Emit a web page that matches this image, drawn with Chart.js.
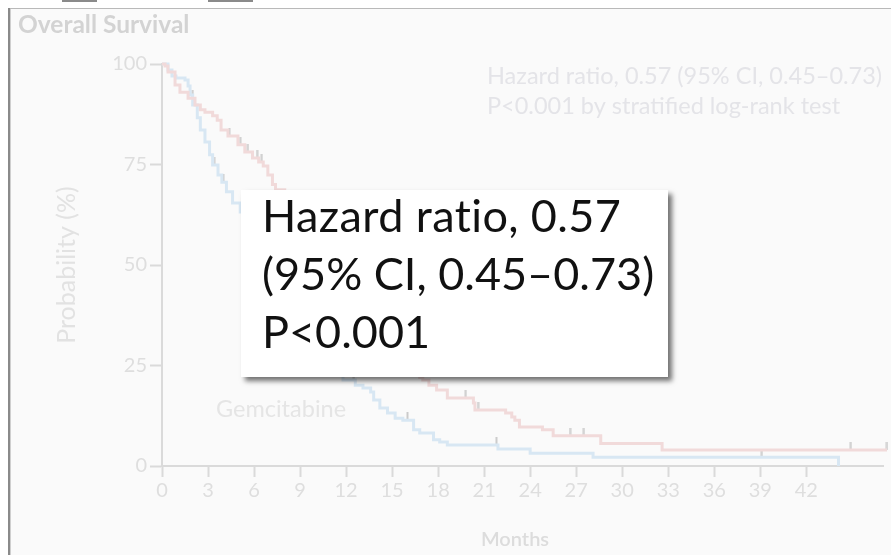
<!DOCTYPE html>
<html>
<head>
<meta charset="utf-8">
<script src="https://cdn.jsdelivr.net/npm/chart.js@4/dist/chart.umd.min.js"></script>
<style>
  html, body { margin: 0; padding: 0; background: #ffffff; }
  #wrap { position: relative; width: 891px; height: 555px; overflow: hidden; background: #ffffff; }
  #panel { position: absolute; left: 9px; top: 9px; width: 882px; height: 546px; background: #fafafa; }
  #chart { position: absolute; left: 0; top: 0; }
  .edgeTop { position: absolute; left: 8px; top: 8px; width: 883px; height: 1px; background: #b9b9b9; }
  .edgeLeft { position: absolute; left: 8px; top: 8px; width: 2px; height: 547px; background: #8a8a8a; }
  .edgeLeftSoft { position: absolute; left: 10px; top: 9px; width: 1px; height: 546px; background: #cfcfcf; }
  .nick { position: absolute; top: 0; height: 2px; background: #8a8a8a; }
  #callout {
    position: absolute; left: 241px; top: 190px; width: 427px; height: 187px;
    background: #ffffff; box-shadow: 4px 4px 5px rgba(0,0,0,0.55);
    font-family: Lato, "Open Sans", sans-serif; font-size: 45px; line-height: 58px; color: #111111;
    box-sizing: border-box; padding-left: 21px; padding-top: 0;
  }
  #callout div { white-space: nowrap; }
  #callout .first { margin-top: -4px; letter-spacing: 0.4px; }
</style>
</head>
<body>
<div id="wrap">
  <div id="panel"></div>
  <canvas id="chart" width="891" height="555"></canvas>
  <div class="edgeTop"></div>
  <div class="edgeLeft"></div>
  <div class="edgeLeftSoft"></div>
  <div class="nick" style="left:62px;width:35px;"></div>
  <div class="nick" style="left:208px;width:45px;"></div>
  <div id="callout">
    <div class="first">Hazard ratio, 0.57</div>
    <div>(95% CI, 0.45–0.73)</div>
    <div>P&lt;0.001</div>
  </div>
</div>
<script>
// Kaplan-Meier overall survival, months vs. percent surviving
const folfirinoxMonths = [0, 0.2, 0.39, 0.85, 1.17, 1.7, 2.15, 2.5, 2.8, 3.3, 3.6, 3.85, 4.3, 4.95, 5.4, 5.9, 6.3, 6.6, 6.9, 7.2, 7.4, 8.0, 9.0, 10.0, 11.1, 12.0, 13.0, 14.0, 15.0, 16.0, 16.8, 17.0, 17.4, 17.9, 18.6, 20.3, 20.4, 22.4, 22.8, 23.0, 23.3, 24.8, 25.5, 28.6, 32.6, 47.26];
const folfirinoxSurv   = [100, 99.5, 98, 94.8, 93, 91.5, 89.8, 88.6, 88, 87.1, 86, 83.6, 82.1, 79.9, 78.1, 76.6, 75.6, 74.6, 72.4, 70, 68.7, 64, 58, 54, 50, 45, 39, 33, 28, 24.5, 22, 21.4, 20.1, 18.9, 16.9, 15.7, 13.9, 13.2, 12.2, 11.4, 9.7, 9.0, 7.5, 5.6, 4.0, 4.0];

const gemMonths = [0, 0.39, 0.65, 0.91, 1.5, 1.7, 1.83, 2.0, 2.3, 2.5, 2.8, 3.1, 3.3, 3.65, 3.9, 4.2, 4.6, 5.1, 5.4, 6.0, 6.8, 7.5, 8.3, 9.0, 9.8, 10.5, 11.2, 11.8, 12.6, 13.1, 13.6, 13.8, 14.2, 14.7, 15.2, 15.7, 16.4, 16.8, 17.7, 18.1, 18.6, 21.9, 24.0, 28.1, 44.1];
const gemSurv   = [100, 98.5, 97, 96.5, 96, 94.5, 92.3, 89.8, 86.6, 83.6, 80.6, 77.4, 74.9, 72.4, 70.6, 68.2, 65.4, 63.2, 61.7, 57, 50, 44, 38, 33, 29, 26, 23.5, 21.4, 20.1, 19.4, 18.4, 16.4, 14.4, 13.2, 11.9, 11.4, 9.0, 8.2, 6.5, 6.0, 5.2, 4.2, 3.2, 2.2, 0];

// censored observations (tick marks on the curves)
const folfirinoxCensorMonths = [2.0, 4.4, 5.1, 5.6, 6.2, 6.5, 19.8, 20.6, 26.6, 27.5, 44.9, 47.26];
const folfirinoxCensorSurv   = [91.5, 82.1, 79.9, 78.1, 76.6, 75.6, 16.9, 13.9, 7.5, 7.5, 4.0, 4.0];
const gemCensorMonths = [3.4, 4.0, 12.5, 16.0, 21.8, 39.1];
const gemCensorSurv   = [74.9, 70.6, 21.4, 11.4, 5.2, 2.2];

const xTickValues = [0, 3, 6, 9, 12, 15, 18, 21, 24, 27, 30, 33, 36, 39, 42];
const yTickValues = [0, 25, 50, 75, 100];

const FONT = 'Lato, "Open Sans", sans-serif';
const pts = (xs, ys) => xs.map((x, i) => ({ x: x, y: ys[i] }));

// small upward tick used as the censor marker
function censorMark() {
  const c = document.createElement('canvas');
  c.width = 3; c.height = 16;
  const g = c.getContext('2d');
  g.fillStyle = '#cbcbcb';
  g.fillRect(0.5, 0, 2, 8);
  return c;
}
const tick = censorMark();

const annotations = {
  id: 'annotations',
  afterDraw(chart) {
    const g = chart.ctx;
    g.save();
    g.textBaseline = 'alphabetic';
    g.fillStyle = '#d3d3d3';
    g.font = 'bold 24.5px ' + FONT;
    g.textAlign = 'left';
    g.fillText('Overall Survival', 18, 33);

    g.fillStyle = '#e4e4e8';
    g.font = '23.5px ' + FONT;
    g.fillText('Hazard ratio, 0.57 (95% CI, 0.45–0.73)', 487, 84);
    g.fillText('P<0.001 by stratified log-rank test', 487, 114);

    g.fillStyle = '#e5e5e5';
    g.font = '23.5px ' + FONT;
    g.fillText('Gemcitabine', 216, 417);

    g.fillStyle = '#dcdcdc';
    g.font = '600 20px ' + FONT;
    g.textAlign = 'center';
    g.fillText('Months', 515, 546);
    g.restore();
  }
};

new Chart(document.getElementById('chart'), {
  type: 'line',
  data: {
    datasets: [
      {
        label: 'FOLFIRINOX',
        data: pts(folfirinoxMonths, folfirinoxSurv),
        stepped: 'before',
        borderColor: '#f1dada',
        borderWidth: 3,
        pointRadius: 0,
        fill: false,
        clip: 8
      },
      {
        label: 'Gemcitabine',
        data: pts(gemMonths, gemSurv),
        stepped: 'before',
        borderColor: '#d8e7f3',
        borderWidth: 3,
        pointRadius: 0,
        fill: false,
        clip: 8
      },
      {
        type: 'scatter',
        label: 'FOLFIRINOX censored',
        data: pts(folfirinoxCensorMonths, folfirinoxCensorSurv),
        pointStyle: tick,
        showLine: false,
        clip: 8
      },
      {
        type: 'scatter',
        label: 'Gemcitabine censored',
        data: pts(gemCensorMonths, gemCensorSurv),
        pointStyle: tick,
        showLine: false,
        clip: 8
      }
    ]
  },
  options: {
    responsive: false,
    animation: false,
    events: [],
    layout: { padding: { left: 0, top: 64, right: 8, bottom: 0 } },
    scales: {
      x: {
        type: 'linear',
        min: 0,
        max: 47,
        afterFit(s) { s.height = 89; },
        afterBuildTicks(s) { s.ticks = xTickValues.map(v => ({ value: v })); },
        grid: { drawOnChartArea: false, drawTicks: true, tickLength: 11, tickColor: '#dadada', tickWidth: 2 },
        border: { display: true, color: '#dadada', width: 2 },
        ticks: { font: { family: FONT, size: 20 }, color: '#dedede', padding: 2, maxRotation: 0, autoSkip: false }
      },
      y: {
        type: 'linear',
        min: 0,
        max: 100,
        afterFit(s) { s.width = 162; },
        afterBuildTicks(s) { s.ticks = yTickValues.map(v => ({ value: v })); },
        grid: { drawOnChartArea: false, drawTicks: true, tickLength: 12, tickColor: '#dadada', tickWidth: 2 },
        border: { display: true, color: '#dadada', width: 2 },
        ticks: { font: { family: FONT, size: 20 }, color: '#dedede', padding: 3 },
        title: {
          display: true,
          text: 'Probability (%)',
          font: { family: FONT, size: 25 },
          color: '#e2e2e2',
          padding: { top: 52, bottom: 0 }
        }
      }
    },
    plugins: { legend: { display: false }, tooltip: { enabled: false } }
  },
  plugins: [annotations]
});
</script>
</body>
</html>
